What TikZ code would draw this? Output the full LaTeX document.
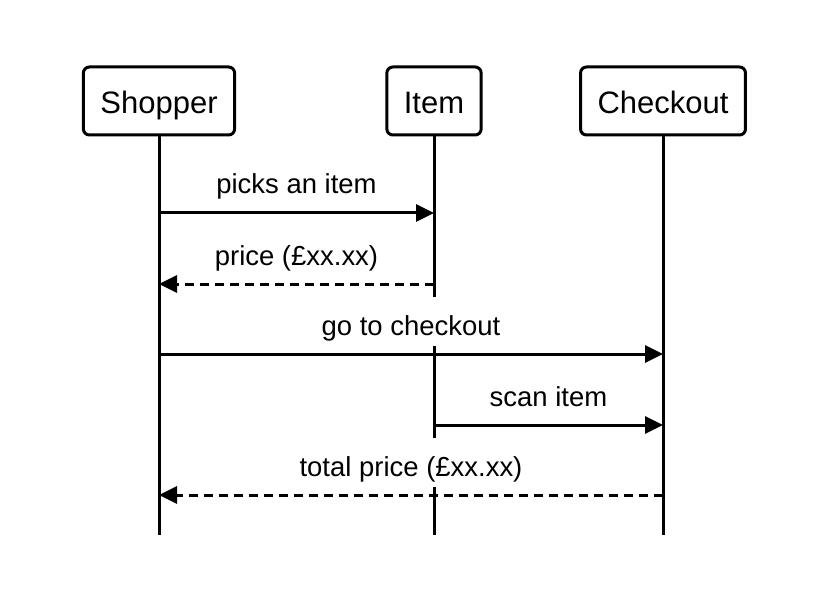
\documentclass[tikz,border=0pt]{standalone}
\usepackage{fontspec}
\setmainfont{Liberation Sans}
\usetikzlibrary{arrows.meta}
\tikzset{
  actor/.style={draw, line width=2.25pt, rounded corners=4.5pt, minimum height=51pt,
    inner xsep=12.75pt, inner ysep=0pt, text height=21pt, text depth=1.5pt,
    font=\fontsize{23.25}{28}\selectfont},
  life/.style={line width=2.25pt},
  msg/.style={line width=2.25pt, -{Triangle[length=13.5pt,width=12.75pt]}},
  reply/.style={msg, dash pattern=on 6.75pt off 4.5pt},
  lbl/.style={fill=white, inner xsep=2pt, inner ysep=0pt, anchor=base, yshift=14.25pt,
    text height=28.5pt, text depth=8.6pt, font=\fontsize{20.6}{24}\selectfont}
}
\begin{document}
\begin{tikzpicture}[x=0.75pt,y=-0.75pt]
\useasboundingbox (0,0) rectangle (834,602);
\node[actor] (shopper) at (159,101) {Shopper};
\node[actor] (item) at (434,101) {Item};
\node[actor] (checkout) at (663,101) {Checkout};
\foreach \n in {shopper,item,checkout}
\draw[life] (\n.south) -- (\n.south |- 0,535);
\foreach \r/\y in {1/213,2/284,3/354,4/425,5/495}
\foreach \n in {shopper,item,checkout}
\coordinate (\n\r) at (\n |- 0,\y);
%%%%
\draw[msg] (shopper1) -- node[lbl] {picks an item} (item1);
\draw[reply] (item2) -- node[lbl] {price (£xx.xx)} (shopper2);
\draw[msg] (shopper3) -- node[lbl] {go to checkout} (checkout3);
\draw[msg] (item4) -- node[lbl] {scan item} (checkout4);
\draw[reply] (checkout5) -- node[lbl] {total price (£xx.xx)} (shopper5);
\end{tikzpicture}
\end{document}
